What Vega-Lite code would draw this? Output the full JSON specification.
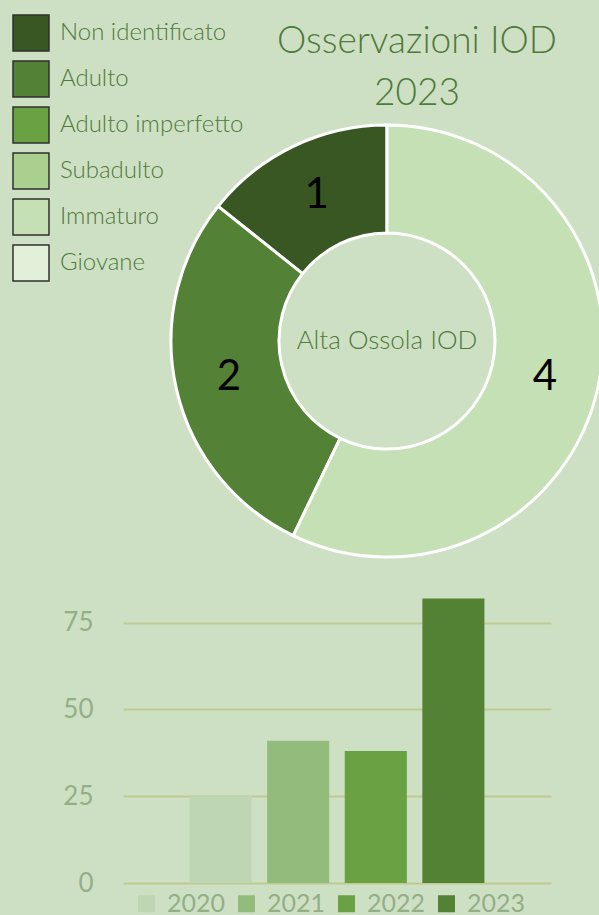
{
  "$schema": "https://vega.github.io/schema/vega-lite/v6.json",
  "background": "#cee0c4",
  "padding": {"left": 12, "top": 14, "right": 0, "bottom": 0},
  "spacing": 25,
  "config": {"view": {"stroke": null}, "font": "Lato"},
  "datasets": {
    "stadi": [
      {"stadio": "Non identificato", "n": 1},
      {"stadio": "Adulto", "n": 2},
      {"stadio": "Immaturo", "n": 4}
    ],
    "anni": [
      {"anno": "2020", "osservazioni": 25},
      {"anno": "2021", "osservazioni": 41},
      {"anno": "2022", "osservazioni": 38},
      {"anno": "2023", "osservazioni": 82}
    ],
    "centro": [{"t": "Alta Ossola IOD"}]
  },
  "resolve": {"scale": {"color": "independent"}, "legend": {"color": "independent"}},
  "vconcat": [
    {
      "width": 528,
      "height": 432,
      "title": {
        "text": ["Osservazioni IOD", "2023"],
        "font": "Lato",
        "fontSize": 37,
        "fontWeight": 300,
        "color": "#4f7a3a",
        "lineHeight": 52,
        "anchor": "middle",
        "frame": "group",
        "dx": 30,
        "offset": -99
      },
      "layer": [
        {
          "data": {"name": "stadi"},
          "mark": {"type": "arc", "outerRadius": 216, "innerRadius": 108, "stroke": "white", "strokeWidth": 3},
          "encoding": {
            "theta": {"field": "n", "type": "quantitative", "stack": true},
            "order": {"field": "n", "sort": "descending"},
            "color": {
              "field": "stadio",
              "type": "nominal",
              "scale": {
                "domain": ["Non identificato", "Adulto", "Adulto imperfetto", "Subadulto", "Immaturo", "Giovane"],
                "range": ["#385723", "#538135", "#6aa142", "#a9d08e", "#c5e0b4", "#e2efd9"]
              },
              "legend": {
                "title": null,
                "orient": "none",
                "legendX": -111,
                "legendY": -111,
                "symbolType": "square",
                "symbolSize": 1296,
                "symbolStrokeColor": "#2f2f2f",
                "symbolStrokeWidth": 1.5,
                "symbolOpacity": 1,
                "rowPadding": 4,
                "labelFont": "Lato",
                "labelFontSize": 24,
                "labelFontWeight": 300,
                "labelColor": "#4f7a3a",
                "labelOffset": 10,
                "labelLimit": 300
              }
            }
          }
        },
        {
          "data": {"name": "stadi"},
          "mark": {"type": "text", "radius": 162, "font": "Lato", "fontSize": 42, "color": "black"},
          "encoding": {
            "theta": {"field": "n", "type": "quantitative", "stack": true},
            "order": {"field": "n", "sort": "descending"},
            "text": {"field": "n", "type": "quantitative"}
          }
        },
        {
          "data": {"name": "centro"},
          "mark": {"type": "text", "font": "Lato", "fontSize": 26, "fontWeight": 300, "color": "#4f7a3a"},
          "encoding": {"text": {"field": "t", "type": "nominal"}}
        }
      ]
    },
    {
      "width": 428,
      "height": 295,
      "data": {"name": "anni"},
      "mark": {"type": "bar"},
      "encoding": {
        "x": {
          "field": "anno",
          "type": "nominal",
          "axis": null,
          "scale": {"paddingInner": 0.2, "paddingOuter": 0.858}
        },
        "y": {
          "field": "osservazioni",
          "type": "quantitative",
          "scale": {"domain": [0, 85]},
          "axis": {
            "title": null,
            "values": [0, 25, 50, 75],
            "domain": false,
            "ticks": false,
            "tickSize": 0,
            "labelPadding": 30,
            "labelFont": "Lato",
            "labelFontSize": 26,
            "labelColor": "#94ae88",
            "gridColor": "#bfca8f",
            "gridWidth": 2
          }
        },
        "color": {
          "field": "anno",
          "type": "nominal",
          "scale": {
            "domain": ["2020", "2021", "2022", "2023"],
            "range": ["#bfd6b4", "#93bb7c", "#6aa142", "#548235"]
          },
          "legend": {
            "title": null,
            "orient": "none",
            "direction": "horizontal",
            "legendX": 11,
            "legendY": 303,
            "symbolType": "square",
            "symbolSize": 289,
            "symbolStrokeWidth": 0,
            "symbolOpacity": 1,
            "labelFont": "Lato",
            "labelFontSize": 25,
            "labelColor": "#94ae88",
            "labelOffset": 8,
            "columnPadding": 8
          }
        }
      }
    }
  ]
}
